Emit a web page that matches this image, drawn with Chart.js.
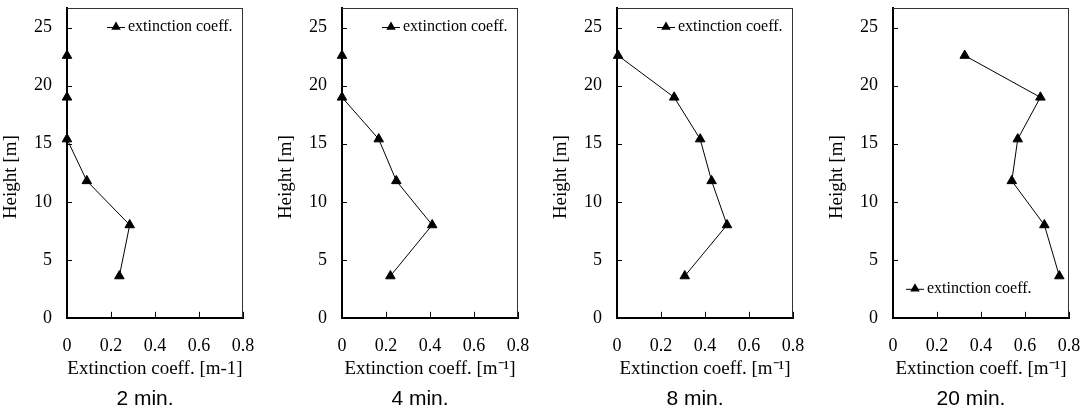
<!DOCTYPE html>
<html>
<head>
<meta charset="utf-8">
<script src="https://cdn.jsdelivr.net/npm/chart.js@4.4.1/dist/chart.umd.min.js"></script>
<style>
  html, body { margin: 0; padding: 0; background: #fff; overflow: hidden; }
  #wrap { position: relative; width: 1081px; height: 413px; }
  .panel { position: absolute; top: 0; width: 290px; height: 413px; }
</style>
</head>
<body>
<div id="wrap">
  <div class="panel" style="left:0px"><canvas id="c0" width="290" height="413"></canvas></div>
  <div class="panel" style="left:275px"><canvas id="c1" width="290" height="413"></canvas></div>
  <div class="panel" style="left:550px"><canvas id="c2" width="290" height="413"></canvas></div>
  <div class="panel" style="left:826px"><canvas id="c3" width="290" height="413"></canvas></div>
</div>
<script>
// measurement heights [m]
const heights = [22.6, 19.0, 15.4, 11.8, 8.0, 3.6];

// extinction coefficient [1/m] at each height
const ext2min = [0, 0, 0, 0.09, 0.285, 0.238];
const ext4min = [0, 0, 0.167, 0.247, 0.41, 0.22];
const ext8min = [0.005, 0.26, 0.378, 0.43, 0.5, 0.308];
const ext20min = [0.326, 0.67, 0.567, 0.54, 0.688, 0.756];

const captions = ['2 min.', '4 min.', '8 min.', '20 min.'];
const xTitles = [
  'Extinction coeff. [m-1]',
  'Extinction coeff. [m\u207B\u00B9]',
  'Extinction coeff. [m\u207B\u00B9]',
  'Extinction coeff. [m\u207B\u00B9]'
];
const legendCorners = ['tr', 'tr', 'tr', 'bl'];
const seriesLabel = 'extinction coeff.';

const serif = '"Liberation Serif", "Times New Roman", serif';
const sans = '"Liberation Sans", Arial, sans-serif';

function triangle(ctx, cx, cy, r) {
  const dx = r * Math.sin(Math.PI / 3);
  ctx.beginPath();
  ctx.moveTo(cx, cy - r);
  ctx.lineTo(cx + dx, cy + r / 2);
  ctx.lineTo(cx - dx, cy + r / 2);
  ctx.closePath();
  ctx.fill();
}

// box frame, inward ticks and in-plot legend
const framePlugin = {
  id: 'frame',
  beforeDatasetsDraw(chart) {
    const { ctx, chartArea: a, scales: { x, y } } = chart;
    ctx.save();
    ctx.strokeStyle = '#333';
    ctx.lineWidth = 1;
    ctx.beginPath();
    ctx.moveTo(a.left, a.top + 0.5);
    ctx.lineTo(a.right, a.top + 0.5);
    ctx.moveTo(a.right - 0.5, a.top);
    ctx.lineTo(a.right - 0.5, a.bottom);
    ctx.stroke();

    ctx.strokeStyle = '#000';
    ctx.beginPath();
    y.ticks.forEach(t => {
      if (t.value === 0) return;
      const py = Math.round(y.getPixelForValue(t.value)) + 0.5;
      ctx.moveTo(a.left, py);
      ctx.lineTo(a.left + 5, py);
    });
    x.ticks.forEach(t => {
      if (t.value === 0) return;
      const px = Math.round(x.getPixelForValue(t.value)) + 0.5;
      ctx.moveTo(px, a.bottom);
      ctx.lineTo(px, a.bottom - 6);
    });
    ctx.stroke();
    ctx.restore();
  },
  afterDraw(chart, args, opts) {
    const { ctx, chartArea: a } = chart;
    let x0, y0;
    if (opts.corner === 'bl') {
      x0 = a.left + 13;
      y0 = a.bottom - 29;
    } else {
      x0 = a.right - 136;
      y0 = a.top + 19;
    }
    ctx.save();
    ctx.strokeStyle = '#000';
    ctx.fillStyle = '#000';
    ctx.lineWidth = 1;
    ctx.beginPath();
    ctx.moveTo(x0, y0 + 0.5);
    ctx.lineTo(x0 + 18, y0 + 0.5);
    ctx.stroke();
    triangle(ctx, x0 + 9, y0, 5.5);
    ctx.font = '16px ' + serif;
    ctx.textBaseline = 'middle';
    ctx.textAlign = 'left';
    ctx.fillText(seriesLabel, x0 + 21, y0);
    ctx.restore();
  }
};

Chart.defaults.color = '#000';

[ext2min, ext4min, ext8min, ext20min].forEach((ext, i) => {
  new Chart(document.getElementById('c' + i), {
    type: 'scatter',
    data: {
      datasets: [{
        label: seriesLabel,
        data: heights.map((h, k) => ({ x: ext[k], y: h })),
        showLine: true,
        borderColor: '#000',
        borderWidth: 1,
        backgroundColor: '#000',
        pointStyle: 'triangle',
        pointRadius: 5.5,
        pointBorderWidth: 1,
        clip: false
      }]
    },
    options: {
      responsive: false,
      animation: false,
      devicePixelRatio: 1,
      layout: { padding: { top: 8, right: 0, bottom: 0, left: 0 } },
      plugins: {
        legend: { display: false },
        tooltip: { enabled: false },
        title: {
          display: true,
          position: 'bottom',
          text: captions[i],
          color: '#000',
          font: { family: sans, size: 21, weight: 'normal' },
          padding: { top: 0, bottom: 1 }
        },
        frame: { corner: legendCorners[i] }
      },
      scales: {
        x: {
          type: 'linear',
          min: 0,
          max: 0.8,
          // fixed axis height; right padding leaves room so the caption sits off-centre like the original
          afterFit(s) { s.height = 69; s.paddingLeft = 0; s.paddingRight = 47; },
          ticks: { stepSize: 0.2, includeBounds: false, padding: 18, maxRotation: 0,
                   font: { family: serif, size: 18 } },
          grid: { display: false, drawTicks: false },
          border: { display: true, color: '#000', width: 2 },
          title: { display: true, text: xTitles[i], font: { family: serif, size: 19 },
                   padding: { top: 0, bottom: 6 } }
        },
        y: {
          type: 'linear',
          min: 0,
          max: 26.7,
          afterFit(s) { s.width = 67; s.paddingTop = 0; s.paddingBottom = 0; },
          ticks: { stepSize: 5, includeBounds: false, padding: 15,
                   font: { family: serif, size: 18 } },
          grid: { display: false, drawTicks: false },
          border: { display: true, color: '#000', width: 2 },
          title: { display: true, text: 'Height [m]' + '\u00a0'.repeat(6),
                   font: { family: serif, size: 19 }, padding: { top: 0, bottom: 0 } }
        }
      }
    },
    plugins: [framePlugin]
  });
});
</script>
</body>
</html>
